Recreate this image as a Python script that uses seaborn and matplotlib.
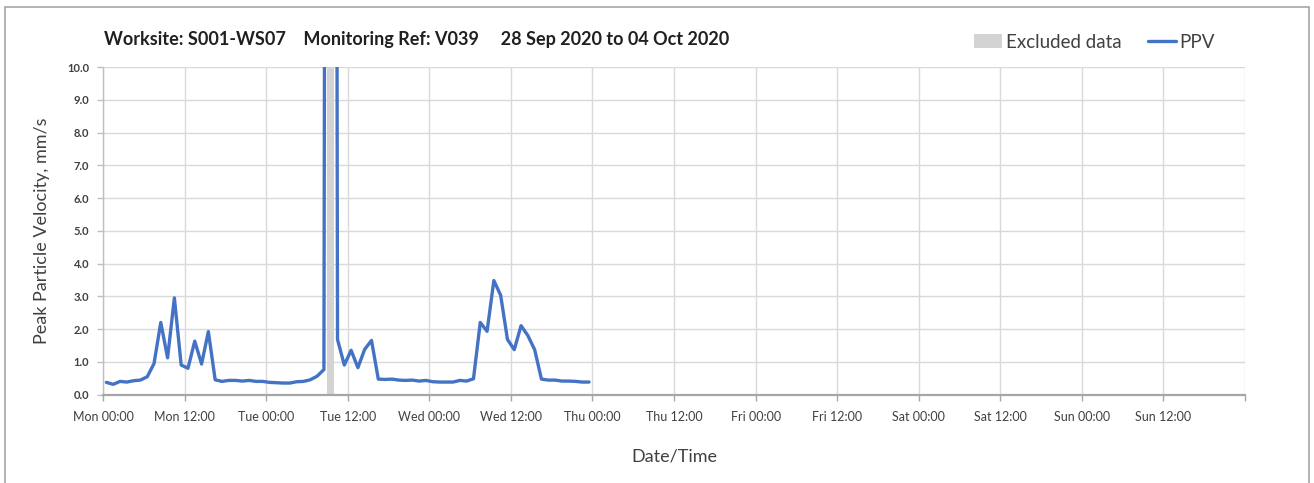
import matplotlib
matplotlib.use("Agg")
import matplotlib.pyplot as plt
from matplotlib.patches import Patch, Rectangle
from matplotlib.lines import Line2D
import pandas as pd
import seaborn as sns

# Hourly PPV readings, Mon 28 Sep 2020 onwards (mm/s)
ppv_values = [
    0.37, 0.31, 0.40, 0.38, 0.42, 0.44, 0.54, 0.94, 2.20, 1.12,
    2.95, 0.90, 0.80, 1.63, 0.93, 1.92, 0.45, 0.40, 0.43, 0.43,
    0.41, 0.43, 0.40, 0.40, 0.37, 0.36, 0.35, 0.35, 0.39, 0.40,
    0.45, 0.56, 0.76, 120.0, 1.68, 0.90, 1.35, 0.82, 1.38, 1.65,
    0.47, 0.46, 0.47, 0.44, 0.43, 0.44, 0.41, 0.43, 0.39, 0.38,
    0.38, 0.38, 0.43, 0.41, 0.48, 2.20, 1.93, 3.48, 3.03, 1.68,
    1.37, 2.10, 1.80, 1.37, 0.47, 0.44, 0.44, 0.41, 0.41, 0.40,
    0.38, 0.38,
]
first_reading = "2020-09-28 00:30"
excluded_times = ["2020-09-29 09:30"]
week_start = "2020-09-28 00:00"
week_end = "2020-10-05 00:00"
y_ticks = [0.0, 1.0, 2.0, 3.0, 4.0, 5.0, 6.0, 7.0, 8.0, 9.0, 10.0]

title_text = "Worksite: S001-WS07    Monitoring Ref: V039     28 Sep 2020 to 04 Oct 2020"
y_label = "Peak Particle Velocity, mm/s"
x_label = "Date/Time"

df = pd.DataFrame({
    "time": pd.date_range(first_reading, periods=len(ppv_values), freq="h"),
    "ppv": ppv_values,
})
excl = pd.DataFrame({"time": pd.to_datetime(excluded_times),
                     "height": [max(y_ticks)] * len(excluded_times)})

sns.set_theme(style="white")
plt.rcParams["font.family"] = ["Lato", "DejaVu Sans"]

W, H = 1314, 483
fig = plt.figure(figsize=(W / 100, H / 100), dpi=100)
ax = fig.add_axes([103 / W, 1 - 394.5 / H, (1245 - 103) / W, (394.5 - 67) / H])

grid_c = "#D9D9D9"
blue = "#4472C4"
grey_band = "#D3D3D3"
text_c = "#404040"

# excluded periods as full-height grey bars
ax.bar(excl["time"], excl["height"], width=1 / 24, color=grey_band,
       edgecolor="none", zorder=1)

sns.lineplot(data=df, x="time", y="ppv", ax=ax, color=blue, linewidth=2.4,
             zorder=3, legend=False)

x0, x1 = pd.Timestamp(week_start), pd.Timestamp(week_end)
ax.set_xlim(x0, x1)
ax.set_ylim(0, 10)

xt = pd.date_range(x0, x1, freq="12h")
ax.set_xticks(xt)
ax.set_xticklabels([t.strftime("%a %H:%M") if t < x1 else "" for t in xt],
                   fontsize=9, color=text_c)
ax.set_yticks(y_ticks)
ax.set_yticklabels([f"{v:.1f}" for v in y_ticks], fontsize=8, color=text_c,
                   fontweight="bold")

ax.grid(True, color=grid_c, linewidth=1.0, zorder=0)
ax.set_axisbelow(True)
for s in ["top", "right"]:
    ax.spines[s].set_visible(False)
ax.spines["left"].set_color("#BFBFBF")
ax.spines["left"].set_linewidth(1.0)
ax.spines["bottom"].set_color("#A6A6A6")
ax.spines["bottom"].set_linewidth(1.6)
ax.tick_params(axis="x", direction="out", length=4, width=1, color="#A6A6A6", pad=8)
ax.tick_params(axis="y", direction="out", length=4, width=1, color="#BFBFBF", pad=6)
ax.xaxis.set_tick_params(bottom=True)
ax.yaxis.set_tick_params(left=True)

ax.set_xlabel(x_label, fontsize=13, color=text_c, labelpad=18)
ax.set_ylabel(y_label, fontsize=13, color=text_c, labelpad=12)

fig.text(104 / W, 1 - 40 / H, title_text, fontsize=13, fontweight="bold",
         color="#202020", va="center", ha="left")

handles = [Patch(facecolor=grey_band, edgecolor="none", label="Excluded data"),
           Line2D([0], [0], color=blue, linewidth=2.4, label="PPV")]
fig.legend(handles=handles, loc="center right", bbox_to_anchor=(1232 / W, 1 - 42 / H),
           ncol=2, frameon=False, fontsize=13.5, handlelength=1.5,
           handletextpad=0.2, columnspacing=1.4, labelcolor=text_c)

# outer chart frame
fig.patches.append(Rectangle((5 / W, -0.05), (1309 - 5) / W, 1.05 - 7 / H,
                             transform=fig.transFigure, fill=False,
                             edgecolor="#A6A6A6", linewidth=1.2))

fig.savefig("out.png", dpi=100)
